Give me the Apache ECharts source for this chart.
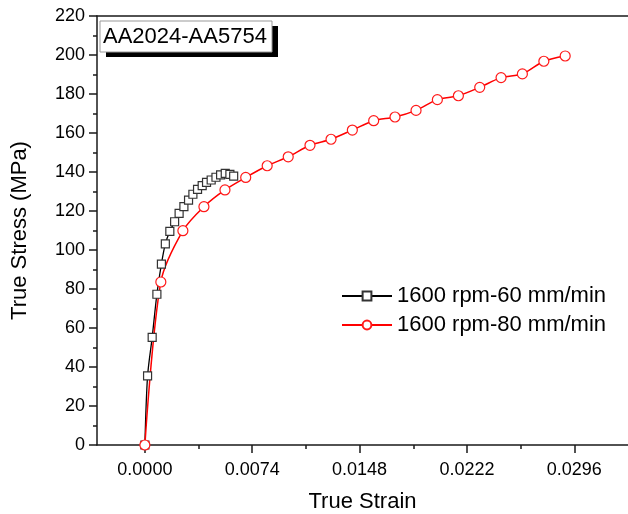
<!DOCTYPE html>
<html>
<head>
<meta charset="utf-8">
<script src="https://cdn.jsdelivr.net/npm/echarts@6/dist/echarts.min.js"></script>
<style>html,body{margin:0;padding:0;background:#fff}#c{width:628px;height:514px}</style>
</head>
<body>
<div id="c"></div>
<script>
// ---- data ----
const series60Name = '1600 rpm-60 mm/min';
const series80Name = '1600 rpm-80 mm/min';
const strain60 = [0, 0.000186, 0.000503, 0.000828, 0.00114, 0.00141, 0.00172, 0.00205, 0.00236, 0.00269, 0.00301, 0.00331, 0.00363, 0.00395, 0.00425, 0.00457, 0.00490, 0.00522, 0.00554, 0.00586, 0.00612];
const stress60 = [0, 35.4, 55.2, 77.3, 92.8, 103.1, 109.6, 114.5, 118.8, 122.2, 125.6, 128.6, 131.1, 133.0, 134.7, 135.9, 137.3, 138.5, 139.3, 138.8, 137.9];
const strain80 = [0, 0.0011, 0.00262, 0.00407, 0.00552, 0.00695, 0.00843, 0.00988, 0.01138, 0.01283, 0.0143, 0.01577, 0.01724, 0.01869, 0.02016, 0.02161, 0.02308, 0.02455, 0.02602, 0.0275, 0.02897];
const stress80 = [0, 83.6, 109.9, 122.2, 130.8, 137.2, 143.2, 147.8, 153.7, 156.8, 161.5, 166.3, 168.2, 171.6, 177.1, 179.1, 183.4, 188.4, 190.3, 196.8, 199.5];
const xMajorTicks = [0, 0.0074, 0.0148, 0.0222, 0.0296];
const xMinorTicks = [0.0037, 0.0111, 0.0185, 0.0259];
const xRange = [-0.0033, 0.0333];
const yRange = [0, 220];
const yInterval = 20;
const annotation = 'AA2024-AA5754';

const FONT = '"Liberation Sans", Arial, sans-serif';
const zip = (a, b) => a.map((v, i) => [v, b[i]]);

const chart = echarts.init(document.getElementById('c'), null, {renderer: 'canvas'});
const axisLineStyle = {color: '#1a1a1a', width: 1.5};
chart.setOption({
  animation: false,
  backgroundColor: '#fff',
  grid: {left: 97, top: 16, right: 0, bottom: 69, containLabel: false, outerBoundsMode: 'none'},
  xAxis: [
    {
      type: 'value', position: 'bottom', min: xRange[0], max: xRange[1],
      name: 'True Strain', nameLocation: 'middle', nameGap: 46,
      nameTextStyle: {fontFamily: FONT, fontSize: 22, color: '#000'},
      axisLine: {show: true, onZero: false, lineStyle: axisLineStyle},
      axisTick: {show: true, length: 8, customValues: xMajorTicks, lineStyle: axisLineStyle},
      axisLabel: {show: true, customValues: xMajorTicks, margin: 16, fontFamily: FONT, fontSize: 18, color: '#000',
        formatter: v => v.toFixed(4)},
      splitLine: {show: false}
    },
    {
      type: 'value', position: 'bottom', min: xRange[0], max: xRange[1], gridIndex: 0,
      axisLine: {show: false, onZero: false},
      axisTick: {show: true, length: 4, customValues: xMinorTicks, lineStyle: axisLineStyle},
      axisLabel: {show: false}, splitLine: {show: false}
    },
    {
      type: 'value', position: 'top', min: xRange[0], max: xRange[1], gridIndex: 0,
      axisLine: {show: true, onZero: false, lineStyle: axisLineStyle},
      axisTick: {show: false}, axisLabel: {show: false}, splitLine: {show: false}
    }
  ],
  yAxis: {
    type: 'value', min: yRange[0], max: yRange[1], interval: yInterval,
    name: 'True Stress (MPa)', nameLocation: 'middle', nameGap: 66,
    nameTextStyle: {fontFamily: FONT, fontSize: 22, color: '#000'},
    axisLine: {show: true, onZero: false, lineStyle: axisLineStyle},
    axisTick: {show: true, length: 8, lineStyle: axisLineStyle},
    minorTick: {show: true, splitNumber: 2, length: 4, lineStyle: axisLineStyle},
    axisLabel: {margin: 12, fontFamily: FONT, fontSize: 18, color: '#000'},
    splitLine: {show: false}, minorSplitLine: {show: false}
  },
  legend: {
    left: 341, top: 285, padding: 0, orient: 'vertical', itemWidth: 50, itemHeight: 11, itemGap: 7,
    textStyle: {fontFamily: FONT, fontSize: 22, color: '#000', lineHeight: 22},
    data: [series60Name, series80Name]
  },
  series: [
    {
      name: series60Name, type: 'line', data: zip(strain60, stress60), smooth: 0.3,
      symbol: 'rect', symbolSize: 8, showAllSymbol: true,
      lineStyle: {color: '#000', width: 1.3},
      itemStyle: {color: '#fff', borderColor: '#333', borderWidth: 1.2},
      emphasis: {disabled: true}
    },
    {
      name: series80Name, type: 'line', data: zip(strain80, stress80), smooth: 0.3,
      symbol: 'circle', symbolSize: 10, showAllSymbol: true,
      lineStyle: {color: '#ff0000', width: 1.5},
      itemStyle: {color: '#fff', borderColor: '#ff1a1a', borderWidth: 1.2},
      emphasis: {disabled: true}
    }
  ],
  graphic: [
    {type: 'rect', shape: {x: 106, y: 26, width: 172, height: 31}, style: {fill: '#000'}, z: 10},
    {type: 'rect', shape: {x: 100, y: 21, width: 172, height: 31}, style: {fill: '#fff', stroke: '#999', lineWidth: 1}, z: 11},
    {type: 'text', x: 103, y: 36.5, style: {text: annotation, font: '22px ' + FONT, fill: '#000', textVerticalAlign: 'middle', verticalAlign: 'middle'}, z: 12}
  ]
});
</script>
</body>
</html>
